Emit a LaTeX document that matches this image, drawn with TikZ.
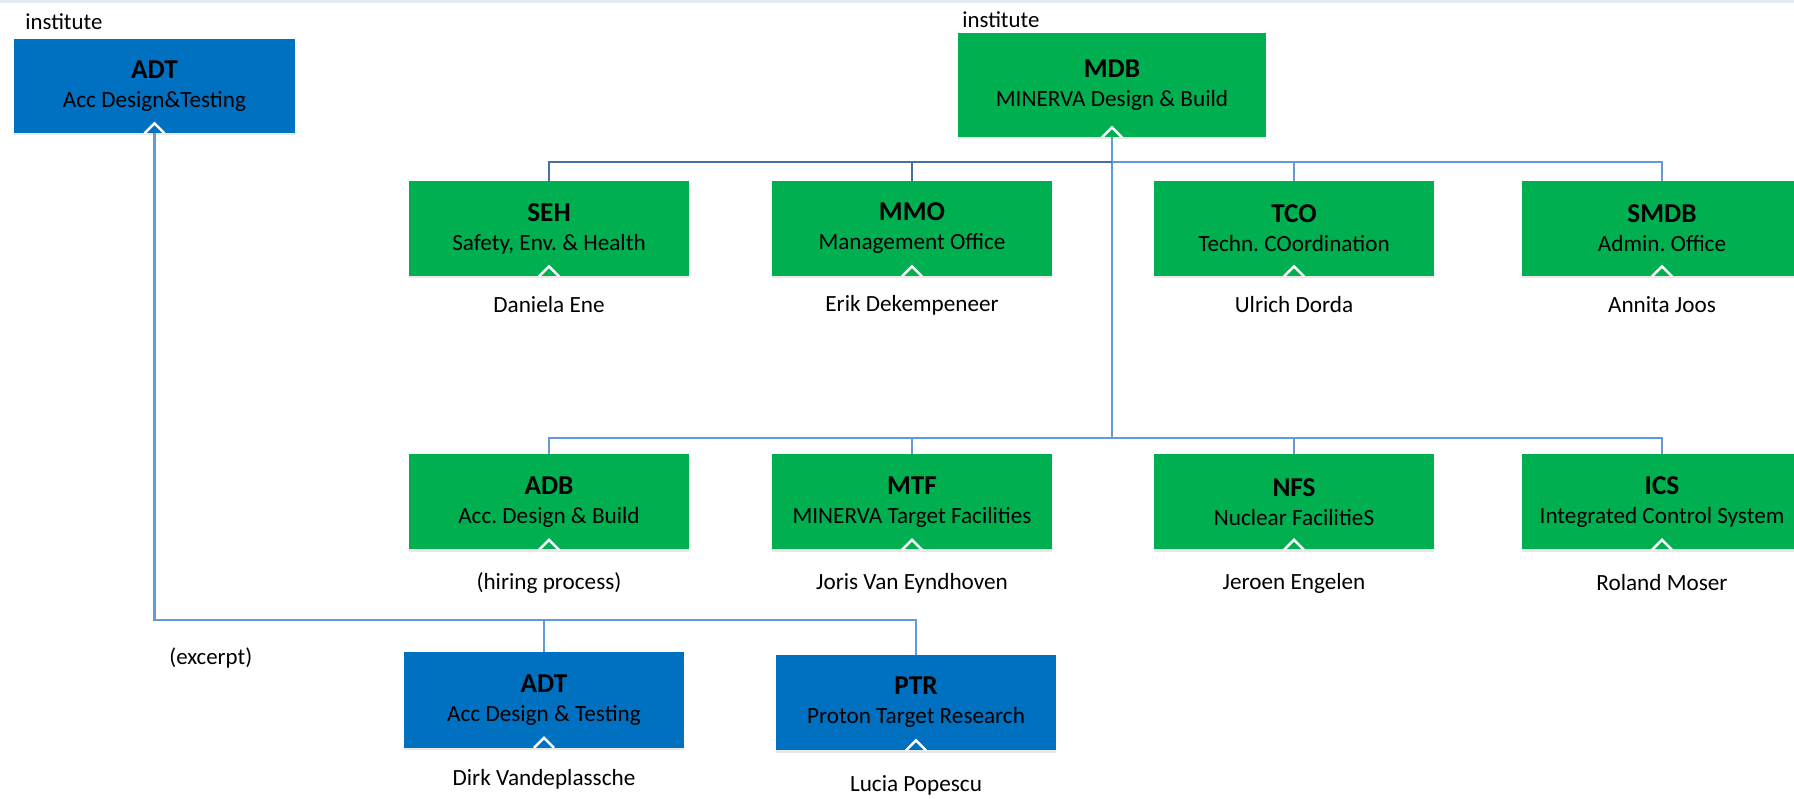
\documentclass[tikz,border=0pt]{standalone}
\usepackage{fontspec}
\setmainfont{Carlito}
\usetikzlibrary{shadows}
\definecolor{unitgreen}{RGB}{0,176,80}
\definecolor{unitblue}{RGB}{0,112,192}
\definecolor{linkblue}{RGB}{98,153,216}
\definecolor{linkdark}{RGB}{70,112,162}
\definecolor{topband}{RGB}{228,234,242}
\newcommand\abbrfont{\fontsize{15.5}{16.5}\selectfont\bfseries}
\tikzset{
  unit/.style={fill=unitgreen, minimum width=5.6cm, minimum height=1.9cm, inner sep=0pt,
    align=center, font=\fontsize{13.2}{16.5}\selectfont,
    drop shadow={shadow xshift=0pt, shadow yshift=-0.05cm, opacity=0.18}},
  bunit/.style={unit, fill=unitblue},
  who/.style={font=\fontsize{13.2}{16.5}\selectfont, inner sep=0pt},
  tag/.style={font=\fontsize{13}{16}\selectfont, inner sep=0pt, anchor=west},
  link/.style={linkblue, line width=1.6pt},
  linkd/.style={linkdark, line width=1.6pt},
  chev/.style={white, line width=1.4pt}
}

\begin{document}
\frenchspacing
\begin{tikzpicture}
  \useasboundingbox (0,0) rectangle (35.88,15.96);
  \clip (0,0) rectangle (35.88,15.96);
  \fill[topband] (0,15.9) rectangle (35.88,15.96);
  \xdef\rowA{11.39}
  \xdef\rowB{5.92}

  \node[tag] (inst1) at (0.5,15.52) {institute};
  \node[tag] (inst2) at (19.24,15.56) {institute};
  \node[bunit, minimum width=5.62cm, minimum height=1.88cm] (adt) at (3.09,14.24) {{\abbrfont ADT}\\Acc Design\&Testing};
  \node[unit, minimum width=6.16cm, minimum height=2.08cm] (mdb) at (22.24,14.26) {{\abbrfont MDB}\\MINERVA Design \& Build};

  \foreach \id/\x/\abbr/\desc/\who in {
    seh/10.98/SEH/{Safety, Env. \& Health}/Daniela Ene,
    mmo/18.24/MMO/Management Office/Erik Dekempeneer,
    tco/25.88/TCO/Techn. COordination/Ulrich Dorda,
    smdb/33.24/SMDB/Admin. Office/Annita Joos}{
    \node[unit] (\id) at (\x,\rowA) {{\abbrfont \abbr}\\\desc};
    \node[who] (\id-n) at (\x,9.86) {\who};
  }
  \foreach \id/\x/\abbr/\desc/\who in {
    adb/10.98/ADB/Acc. Design \& Build/(hiring process),
    mtf/18.24/MTF/MINERVA Target Facilities/Joris Van Eyndhoven,
    nfs/25.88/NFS/Nuclear FacilitieS/Jeroen Engelen,
    ics/33.24/ICS/Integrated Control System/Roland Moser}{
    \node[unit] (\id) at (\x,\rowB) {{\abbrfont \abbr}\\\desc};
    \node[who] (\id-n) at (\x,4.3) {\who};
  }

  \node[tag] (excerpt) at (3.38,2.8) {(excerpt)};
  \node[bunit] (adtb) at (10.88,1.96) {{\abbrfont ADT}\\Acc Design \& Testing};
  \node[bunit] (ptr) at (18.32,1.91) {{\abbrfont PTR}\\Proton Target Research};
  \node[who] (adtb-n) at (10.88,0.38) {Dirk Vandeplassche};
  \node[who] (ptr-n) at (18.32,0.25) {Lucia Popescu};

  \coordinate (busA) at (0,12.72);
  \coordinate (busB) at (0,7.2);
  \coordinate (busC) at (0,3.56);

  \draw[link] (mdb.south) -- (busB -| mdb.south);
  \foreach \id in {seh,mmo}
    \draw[linkd] (\id.north) |- (busA -| mdb.south);
  \foreach \id in {tco,smdb}
    \draw[link] (\id.north) |- (busA -| mdb.south);
  \foreach \id in {adb,mtf,nfs,ics}
    \draw[link] (\id.north) |- (busB -| mdb.south);
  \draw[link] (adt.south) |- (busC -| ptr.north) -- (ptr.north);
  \draw[link] (adtb.north) -- (busC -| adtb.north);

  % little carets under each box
  \foreach \id in {adt,mdb,seh,mmo,tco,smdb,adb,mtf,nfs,ics,adtb,ptr}
    \draw[chev] ([xshift=-0.2cm]\id.south) -- ++(0.2,0.2) -- ++(0.2,-0.2);
\end{tikzpicture}
\end{document}
